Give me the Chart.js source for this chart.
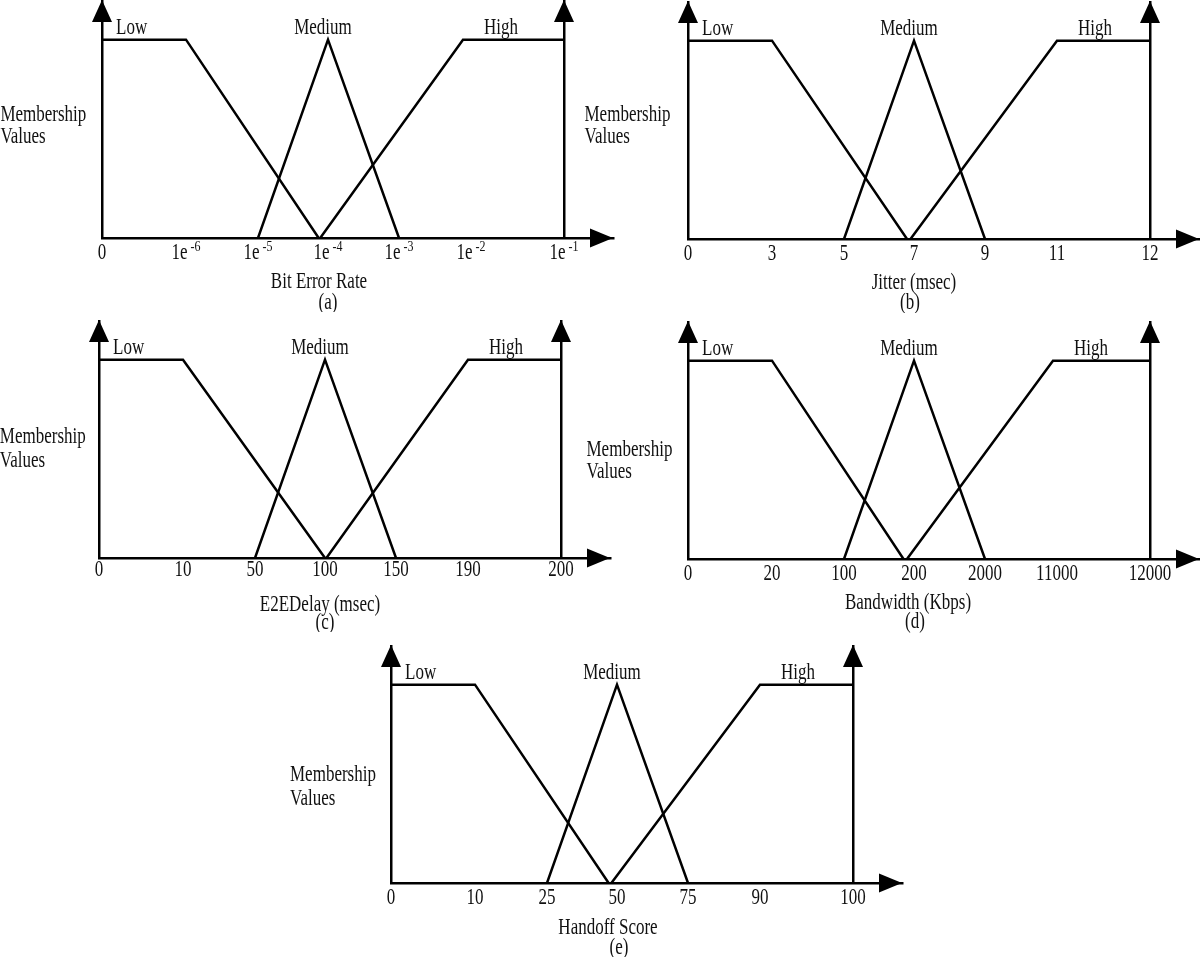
<!DOCTYPE html>
<html>
<head>
<meta charset="utf-8">
<script src="https://cdn.jsdelivr.net/npm/chart.js@4.4.1/dist/chart.umd.min.js"></script>
<style>
  html, body { margin: 0; padding: 0; background: #fff; overflow: hidden; }
  body { width: 1200px; height: 957px; position: relative; }
  canvas { position: absolute; }
</style>
</head>
<body>
<canvas id="chart-a"></canvas>
<canvas id="chart-b"></canvas>
<canvas id="chart-c"></canvas>
<canvas id="chart-d"></canvas>
<canvas id="chart-e"></canvas>
<script>
// membership grades shared by every panel
const lowY = [1, 1, 0];
const mediumY = [0, 1, 0];
const highY = [0, 1, 1];

// (a) bit error rate
const berTickLabels = ['0', '1e-6', '1e-5', '1e-4', '1e-3', '1e-2', '1e-1'];
const berTickValues = [0, 1e-6, 1e-5, 1e-4, 1e-3, 1e-2, 1e-1];
const berLowX = [0, 1e-6, 8.8e-5];
const berMediumX = [1e-5, 1e-4, 1e-3];
const berHighX = [9e-5, 9e-3, 1e-1];

// (b) jitter
const jitterTickLabels = ['0', '3', '5', '7', '9', '11', '12'];
const jitterTickValues = [0, 3, 5, 7, 9, 11, 12];
const jitterLowX = [0, 3, 6.8];
const jitterMediumX = [5, 7, 9];
const jitterHighX = [6.9, 11, 12];

// (c) end to end delay
const delayTickLabels = ['0', '10', '50', '100', '150', '190', '200'];
const delayTickValues = [0, 10, 50, 100, 150, 190, 200];
const delayLowX = [0, 10, 100];
const delayMediumX = [50, 100, 150];
const delayHighX = [101, 190, 200];

// (d) bandwidth
const bwTickLabels = ['0', '20', '100', '200', '2000', '11000', '12000'];
const bwTickValues = [0, 20, 100, 200, 2000, 11000, 12000];
const bwLowX = [0, 20, 185];
const bwMediumX = [100, 200, 2000];
const bwHighX = [190, 10500, 12000];

// (e) handoff score
const scoreTickLabels = ['0', '10', '25', '50', '75', '90', '100'];
const scoreTickValues = [0, 10, 25, 50, 75, 90, 100];
const scoreLowX = [0, 10, 47];
const scoreMediumX = [25, 50, 75];
const scoreHighX = [48, 90, 100];

// the drawing uses the same uneven tick spacing on every axis
const SLOT_POS = [0, 84, 156, 226, 297, 369, 462];
const AXIS_END = 511;
const FONT = '"Liberation Serif", "Times New Roman", serif';
const INK = '#111';
const STRETCH = 1.3; // the scanned lettering is taller than it is wide

const panels = [
  { id: 'chart-a', ox: 101.6, oy: 238.3, labels: berTickLabels, values: berTickValues,
    low: berLowX, medium: berMediumX, high: berHighX, title: 'Bit Error Rate', tag: '(a)',
    memDx: 101.6, memDy: [123, 101], tickDy: 15, titleDy: [43.7, 64.7], titleDx: [-9, 0] },
  { id: 'chart-b', ox: 687.5, oy: 239.3, labels: jitterTickLabels, values: jitterTickValues,
    low: jitterLowX, medium: jitterMediumX, high: jitterHighX, title: 'Jitter (msec)', tag: '(b)',
    memDx: 103.5, memDy: [124, 102], tickDy: 15.5, titleDy: [44, 64], titleDx: [0, -4] },
  { id: 'chart-c', ox: 99.2, oy: 558.3, labels: delayTickLabels, values: delayTickValues,
    low: delayLowX, medium: delayMediumX, high: delayHighX, title: 'E2EDelay (msec)', tag: '(c)',
    memDx: 99.2, memDy: [121, 97], tickDy: 12, titleDy: [46.7, 64.7], titleDx: [-5, 0] },
  { id: 'chart-d', ox: 687.5, oy: 559, labels: bwTickLabels, values: bwTickValues,
    low: bwLowX, medium: bwMediumX, high: bwHighX, title: 'Bandwidth (Kbps)', tag: '(d)',
    memDx: 101.5, memDy: [109, 87], tickDy: 15, titleDy: [44, 62.7], titleDx: [-6, 1] },
  { id: 'chart-e', ox: 391, oy: 883.3, labels: scoreTickLabels, values: scoreTickValues,
    low: scoreLowX, medium: scoreMediumX, high: scoreHighX, title: 'Handoff Score', tag: '(e)',
    memDx: 101, memDy: [108, 84], tickDy: 14.7, titleDy: [44.7, 64.7], titleDx: [-9, 2] }
];

// piecewise map of a real value onto the schematic axis
function toSlot(v, tickValues) {
  for (let i = 1; i < tickValues.length; i++) {
    if (v <= tickValues[i]) {
      const t = (v - tickValues[i - 1]) / (tickValues[i] - tickValues[i - 1]);
      return SLOT_POS[i - 1] + t * (SLOT_POS[i] - SLOT_POS[i - 1]);
    }
  }
  return SLOT_POS[SLOT_POS.length - 1];
}

function points(xs, ys, tickValues) {
  return xs.map((v, i) => ({ x: toSlot(v, tickValues), y: ys[i] }));
}

function triangle(ctx, p1, p2, p3) {
  ctx.beginPath();
  ctx.moveTo(p1[0], p1[1]);
  ctx.lineTo(p2[0], p2[1]);
  ctx.lineTo(p3[0], p3[1]);
  ctx.closePath();
  ctx.fill();
}

function text(ctx, str, x, y, align, size) {
  ctx.save();
  ctx.translate(x, y);
  ctx.scale(1, STRETCH);
  ctx.font = (size || 17) + 'px ' + FONT;
  ctx.textAlign = align;
  ctx.textBaseline = 'middle';
  ctx.fillText(str, 0, 0);
  ctx.restore();
}

// "1e-6" is written as 1e with a raised -6
function tickText(ctx, str, x, y) {
  const m = /^(.*e)(-\d+)$/.exec(str);
  if (!m) { text(ctx, str, x, y, 'center'); return; }
  ctx.font = '17px ' + FONT;
  const w1 = ctx.measureText(m[1]).width;
  ctx.font = '12px ' + FONT;
  const w2 = ctx.measureText(m[2]).width;
  const gap = 3;
  const left = x - (w1 + gap + w2) / 2;
  text(ctx, m[1], left, y, 'left', 17);
  text(ctx, m[2], left + w1 + gap, y - 6, 'left', 12);
}

const decorPlugin = {
  id: 'decor',
  afterDraw(chart, args, opts) {
    const { ctx, chartArea: a, scales: { x, y } } = chart;
    const p = opts.panel;
    ctx.save();
    ctx.fillStyle = '#000';
    // arrow heads
    const xr = x.getPixelForValue(SLOT_POS[SLOT_POS.length - 1]);
    triangle(ctx, [a.left, a.top], [a.left - 10, a.top + 22], [a.left + 10, a.top + 22]);
    triangle(ctx, [xr, a.top], [xr - 10, a.top + 22], [xr + 10, a.top + 22]);
    triangle(ctx, [a.right, a.bottom], [a.right - 23, a.bottom - 9.5], [a.right - 23, a.bottom + 9.5]);

    ctx.fillStyle = INK;
    // tick labels at the scale's tick positions
    x.ticks.forEach((t, i) => tickText(ctx, p.labels[i], x.getPixelForValue(t.value), a.bottom + p.tickDy));
    const mid = x.getPixelForValue(SLOT_POS[3]);
    text(ctx, p.title, mid + p.titleDx[0], a.bottom + p.titleDy[0], 'center');
    text(ctx, p.tag, mid + p.titleDx[1], a.bottom + p.titleDy[1], 'center');

    text(ctx, 'Membership', a.left - p.memDx, a.bottom - p.memDy[0], 'left');
    text(ctx, 'Values', a.left - p.memDx, a.bottom - p.memDy[1], 'left');

    const top = y.getPixelForValue(1) - 11;
    text(ctx, 'Low', x.getPixelForValue(toSlot(p.low[0], p.values)) + 14, top, 'left');
    text(ctx, 'Medium', x.getPixelForValue(toSlot(p.medium[1], p.values)) - 5, top, 'center');
    text(ctx, 'High', x.getPixelForValue(toSlot(p.high[1], p.values)) + 38, top, 'center');
    ctx.restore();
  }
};

const lineStyle = { borderColor: '#000', borderWidth: 2.5, pointRadius: 0, showLine: true, fill: false, tension: 0 };

panels.forEach(p => {
  const canvas = document.getElementById(p.id);
  canvas.width = 104 + AXIS_END + 2;
  canvas.height = 238 + 74;
  canvas.style.left = (p.ox - 104) + 'px';
  canvas.style.top = (p.oy - 238) + 'px';

  new Chart(canvas.getContext('2d'), {
    type: 'scatter',
    data: {
      datasets: [
        Object.assign({ label: 'Low', data: points(p.low, lowY, p.values) }, lineStyle),
        Object.assign({ label: 'Medium', data: points(p.medium, mediumY, p.values) }, lineStyle),
        Object.assign({ label: 'High', data: points(p.high, highY, p.values) }, lineStyle)
      ]
    },
    options: {
      responsive: false,
      animation: false,
      events: [],
      layout: { padding: { left: 104, right: 2, top: 0, bottom: 0 } },
      plugins: {
        legend: { display: false },
        tooltip: { enabled: false },
        decor: { panel: p }
      },
      scales: {
        x: {
          type: 'linear',
          min: 0,
          max: AXIS_END,
          afterBuildTicks: s => { s.ticks = SLOT_POS.map(v => ({ value: v })); },
          afterFit: s => { s.height = 74; },
          ticks: { display: false, autoSkip: false },
          grid: {
            drawTicks: false,
            lineWidth: 2.5,
            color: c => c.index === SLOT_POS.length - 1 ? '#000' : 'rgba(0,0,0,0)'
          },
          border: { display: true, color: '#000', width: 2.5 },
          title: { display: false }
        },
        y: {
          min: 0,
          max: 1.2,
          afterFit: s => { s.width = 0; },
          ticks: { display: false },
          grid: { display: false },
          border: { display: true, color: '#000', width: 2.5 }
        }
      }
    },
    plugins: [decorPlugin]
  });
});
</script>
</body>
</html>
